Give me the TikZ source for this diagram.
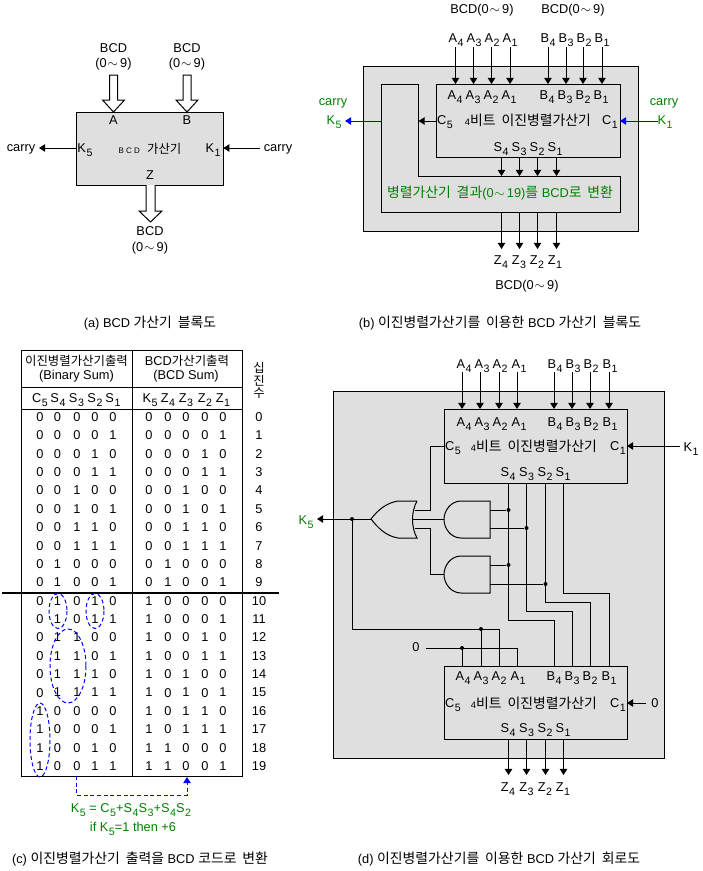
\documentclass[tikz,border=0pt]{standalone}
\usepackage{fontspec}
\setmainfont{Liberation Sans}
\newfontfamily\korfont[Scale=1.085]{Noto Sans CJK KR}
\newfontfamily\korsmall[Scale=0.97]{Noto Sans CJK KR}
\usetikzlibrary{arrows.meta}
\newcommand{\kor}[1]{{\korfont\spaceskip=0.42em\relax #1}}
\newcommand{\kors}[1]{{\korsmall\spaceskip=0.42em\relax #1}}
\newcommand{\lbl}[2]{#1\kern0.4pt\raisebox{-3pt}[0pt][0pt]{\fontsize{8}{8}\selectfont #2}}
\newcommand{\tld}{\kern0.6pt$\sim$\kern1.6pt}
\newcommand{\pxu}{0.75pt}
\definecolor{boxgray}{HTML}{DFDFDF}
\definecolor{kgreen}{HTML}{008000}
\tikzset{
  txt/.style={inner sep=0pt,text depth=0pt,font=\fontsize{9.6}{11}\selectfont},
  gtxt/.style={txt,text=kgreen},
  capt/.style={txt},
  bit/.style={txt},
  graybox/.style={draw,fill=boxgray,inner sep=0pt,outer sep=0pt},
  wire/.style={line width=\pxu},
  arr/.style={wire,-{Triangle[length=4.6pt,width=5.6pt]}},
  barr/.style={arr,blue},
  fatarr/.style={draw,fill=white,line width=\pxu,line join=miter},
  oval/.style={draw=blue,line width=\pxu,dash pattern=on 3pt off 2pt},
  dot/.style={circle,fill=black,inner sep=0pt,minimum size=3pt},
}
\begin{document}
\begin{tikzpicture}[x=\pxu,y=-\pxu]
\useasboundingbox (0,0) rectangle (703,871);
%% (a) block
\node[graybox,minimum width=146.5*\pxu,minimum height=73*\pxu] (aBox) at (150,148.5) {};
\foreach \n/\x in {A/113.5,B/187}{
  \node[txt] (aT\n) at (\x,48) {BCD};
  \node[txt] (aR\n) at (\x,63) {(0\tld9)};
  \draw[fatarr] (\x-4,75) -- (\x-4,100) -- (\x-11,100) -- (\x,112) -- (\x+11,100) -- (\x+4,100) -- (\x+4,75) -- cycle;
  \node[txt] (aP\n) at (\x,120) {\n};
}
\draw[fatarr] (146,185) -- (146,211) -- (139,211) -- (150.5,222) -- (162,211) -- (155,211) -- (155,185);
\node[txt] (aZ) at (150,175) {Z};
\node[txt] (aBt) at (150,231) {BCD};
\node[txt] (aRt) at (150,247) {(0\tld9)};
\node[txt] (aK5) at (85,148) {\lbl{K}{5}};
\node[txt] (aK1) at (213,148) {\lbl{K}{1}};
\node[txt] (aMid) at (150,148) {{\fontsize{6}{7}\selectfont B C D}\ \ \kors{가산기}};
\node[txt] (aCl) at (21,148) {carry};
\node[txt] (aCr) at (278,148) {carry};
\coordinate (aLs) at (76.5,148); \coordinate (aLe) at (39,148);
\coordinate (aRs) at (260,148);
\draw[arr] (aLs) -- (aLe);
\draw[arr] (aRs) -- (aRs -| aBox.east);
\node[capt] (aCap) at (150,322) {(a) BCD \kor{가산기 블록도}};
%% (b) block
\node[graybox,minimum width=275*\pxu,minimum height=165*\pxu] (bOut) at (500.5,148.5) {};
\node[graybox,minimum width=184*\pxu,minimum height=73*\pxu] (bAdd) at (528,120.5) {};
\draw[wire,fill=boxgray] (381,84) -- (418,84) -- (418,176) -- (620,176) -- (620,212) -- (381,212) -- cycle;
\coordinate (bConvN) at (500,176); \coordinate (bConvS) at (500,212);
\node[gtxt] (bConv) at (500,192) {\kor{병렬가산기 결과}(0\tld19)\kor{를} BCD\kor{로 변환}};
\node[txt] (bTa) at (482,9) {BCD(0\tld9)};
\node[txt] (bTb) at (573,9) {BCD(0\tld9)};
\foreach \l/\n/\x/\w in {A/4/456/455.5,A/3/474/473.5,A/2/492/491.5,A/1/510/510,B/4/548/548,B/3/566/566,B/2/584/583,B/1/602/602}{
  \node[txt] (bt\l\n) at (\x,38.5) {\lbl{\l}{\n}};
  \node[txt] (bi\l\n) at (\x-1,95) {\lbl{\l}{\n}};
  \coordinate (bw\l\n) at (\w,47);
  \draw[arr] (bw\l\n) -- (bw\l\n |- bAdd.north);
}
\foreach \n/\x/\w in {4/501/501.5,3/519/519.5,2/537/537.5,1/555/556.5}{
  \node[txt] (bS\n) at (\x,147) {\lbl{S}{\n}};
  \node[txt] (bZ\n) at (\x,260) {\lbl{Z}{\n}};
  \coordinate (bs\n) at (\w,157); \coordinate (bz\n) at (\w,249);
  \draw[arr] (bs\n) -- (bs\n |- bConvN);
  \draw[arr] (bs\n |- bConvS) -- (bz\n);
}
\node[txt] (bC5) at (445,120) {\lbl{C}{5}};
\node[txt] (bC1) at (610,120) {\lbl{C}{1}};
\node[txt] (bMid) at (528,120) {{\fontsize{7}{8}\selectfont 4}\kor{비트 이진병렬가산기}};
\coordinate (bc5) at (436,121); \coordinate (bc5e) at (418.5,121);
\coordinate (bk5s) at (381,121); \coordinate (bk5e) at (345,121);
\coordinate (bk1s) at (658,121);
\draw[arr] (bc5) -- (bc5e);
\draw[barr] (bk5s) -- (bk5e);
\draw[barr] (bk1s) -- (bk1s -| bAdd.east);
\node[gtxt] (bK5) at (334,120) {\lbl{K}{5}};
\node[gtxt] (bK1) at (665,120) {\lbl{K}{1}};
\node[gtxt] (bCl) at (333,102) {carry};
\node[gtxt] (bCr) at (664,102) {carry};
\node[txt] (bBot) at (527,285) {BCD(0\tld9)};
\node[capt] (bCap) at (500,322) {(b) \kor{이진병렬가산기를 이용한} BCD \kor{가산기 블록도}};
%% (c) table
\node[draw,line width=\pxu,inner sep=0pt,outer sep=0pt,minimum width=221*\pxu,minimum height=426*\pxu] (cTab) at (132,563) {};
\coordinate (cmT) at (132.5,350); \coordinate (cmB) at (132.5,776);
\coordinate (chA) at (21.5,387); \coordinate (chB) at (21.5,409);
\coordinate (cbL) at (2,592.7); \coordinate (cbR) at (279,592.7);
\draw[wire] (cmT) -- (cmB);
\draw[wire] (chA) -- (chA -| cTab.east);
\draw[wire] (chB) -- (chB -| cTab.east);
\draw[line width=1.5pt] (cbL) -- (cbR);
\node[txt] (cHa) at (76.5,360) {\kors{이진병렬가산기출력}};
\node[txt] (cHb) at (76.5,375) {(Binary Sum)};
\node[txt] (cHc) at (187,360) {BCD\kors{가산기출력}};
\node[txt] (cHd) at (186,375) {(BCD Sum)};
\node[txt] (cDa) at (259,367) {\kors{십}};
\node[txt] (cDb) at (259,380) {\kors{진}};
\node[txt] (cDc) at (259,393) {\kors{수}};
\foreach \l/\n/\x in {C/5/40,S/4/58,S/3/76.5,S/2/95,S/1/113,K/5/150,Z/4/168,Z/3/186,Z/2/205,Z/1/223}{
  \node[txt] (ch\l\n) at (\x,398) {\lbl{\l}{\n}};
}
\foreach \r/\a/\b/\c/\d/\e/\f/\g/\h/\i/\j in {0/0/0/0/0/0/0/0/0/0/0,1/0/0/0/0/1/0/0/0/0/1,2/0/0/0/1/0/0/0/0/1/0,3/0/0/0/1/1/0/0/0/1/1,4/0/0/1/0/0/0/0/1/0/0,5/0/0/1/0/1/0/0/1/0/1,6/0/0/1/1/0/0/0/1/1/0,7/0/0/1/1/1/0/0/1/1/1,8/0/1/0/0/0/0/1/0/0/0,9/0/1/0/0/1/0/1/0/0/1,10/0/1/0/1/0/1/0/0/0/0,11/0/1/0/1/1/1/0/0/0/1,12/0/1/1/0/0/1/0/0/1/0,13/0/1/1/0/1/1/0/0/1/1,14/0/1/1/1/0/1/0/1/0/0,15/0/1/1/1/1/1/0/1/0/1,16/1/0/0/0/0/1/0/1/1/0,17/1/0/0/0/1/1/0/1/1/1,18/1/0/0/1/0/1/1/0/0/0,19/1/0/0/1/1/1/1/0/0/1}{
  \pgfmathsetmacro{\yy}{417+18.37*\r}
  \node[bit] (c\r a) at (40,\yy) {\a}; \node[bit] (c\r b) at (57.5,\yy) {\b};
  \node[bit] (c\r c) at (77,\yy) {\c}; \node[bit] (c\r d) at (95,\yy) {\d};
  \node[bit] (c\r e) at (113,\yy) {\e}; \node[bit] (c\r f) at (149,\yy) {\f};
  \node[bit] (c\r g) at (168,\yy) {\g}; \node[bit] (c\r h) at (186,\yy) {\h};
  \node[bit] (c\r i) at (205,\yy) {\i}; \node[bit] (c\r j) at (223,\yy) {\j};
  \node[bit] (c\r n) at (259,\yy) {\r};
}
\draw[oval] (58,611) ellipse (9 and 17.5);
\draw[oval] (95,611) ellipse (9 and 17.5);
\draw[oval] (68,666) ellipse (18 and 37);
\draw[oval] (40,740) ellipse (10 and 37);
\coordinate (cdS) at (76,776); \coordinate (cdM) at (76,795); \coordinate (cdE) at (187,777);
\draw[barr,dash pattern=on 3pt off 2pt] (cdS) -- (cdM) -| (cdE);
\node[gtxt] (cFa) at (131,808) {\lbl{K}{5} = \lbl{C}{5}+\lbl{S}{4}\lbl{S}{3}+\lbl{S}{4}\lbl{S}{2}};
\node[gtxt] (cFb) at (133,827) {if \lbl{K}{5}=1 then +6};
\node[capt] (cCap) at (140,858) {(c) \kor{이진병렬가산기 출력을} BCD \kor{코드로 변환}};
%% (d) circuit
\node[graybox,minimum width=331*\pxu,minimum height=367*\pxu] (dOut) at (498.5,574.5) {};
\node[graybox,minimum width=183*\pxu,minimum height=74*\pxu] (dAddT) at (535.5,446) {};
\node[graybox,minimum width=183*\pxu,minimum height=73*\pxu] (dAddB) at (535.5,702.5) {};
\foreach \l/\n/\x/\w in {A/4/464/462,A/3/482/480,A/2/500/499,A/1/519/517,B/4/555/554,B/3/573/572,B/2/591/590,B/1/610/609}{
  \node[txt] (dt\l\n) at (\x,364) {\lbl{\l}{\n}};
  \node[txt] (di\l\n) at (\x,422) {\lbl{\l}{\n}};
  \node[txt] (dj\l\n) at (\x-1,676) {\lbl{\l}{\n}};
  \coordinate (dw\l\n) at (\w,372);
  \draw[arr] (dw\l\n) -- (dw\l\n |- dAddT.north);
}
\foreach \n/\x/\w in {4/508/508.5,3/526.5/526.5,2/545/545.5,1/563/563.5}{
  \node[txt] (dS\n) at (\x,472) {\lbl{S}{\n}};
  \node[txt] (dR\n) at (\x,728) {\lbl{S}{\n}};
  \node[txt] (dZ\n) at (\x,787) {\lbl{Z}{\n}};
  \coordinate (dq\n) at (\w,483); \coordinate (dz\n) at (\w,775);
  \draw[arr] (dz\n |- dAddB.south) -- (dz\n);
}
\node[txt] (dCa) at (453,446) {\lbl{C}{5}};
\node[txt] (dCb) at (618,446) {\lbl{C}{1}};
\node[txt] (dMa) at (534,446) {{\fontsize{7}{8}\selectfont 4}\kor{비트 이진병렬가산기}};
\node[txt] (dCc) at (453,703) {\lbl{C}{5}};
\node[txt] (dCd) at (618,703) {\lbl{C}{1}};
\node[txt] (dMb) at (534,703) {{\fontsize{7}{8}\selectfont 4}\kor{비트 이진병렬가산기}};
\node[txt] (dK1) at (691,447) {\lbl{K}{1}};
\coordinate (dk1) at (680,446);
\draw[arr] (dk1) -- (dk1 -| dAddT.east);
\node[txt] (dZa) at (655,703) {0};
\coordinate (dc1) at (646,703);
\draw[arr] (dc1) -- (dc1 -| dAddB.east);
 %% gates
\draw[wire] (417,501) -- (398,501) .. controls (386,503) and (378,510) .. (371,519) .. controls (378,528) and (386,536) .. (398,538) -- (417,538) .. controls (411,527) and (411,512) .. (417,501);
\foreach \g/\y in {1/519.5,2/574.5}{
  \draw[wire] (490,\y-18.5) -- (461,\y-18.5) .. controls (451,\y-18.5) and (444,\y-9) .. (444,\y) .. controls (444,\y+9) and (451,\y+18.5) .. (461,\y+18.5) -- (490,\y+18.5) -- cycle;
}
\coordinate (orOut) at (371,519); \coordinate (orA) at (414.5,510); \coordinate (orB) at (412.5,519); \coordinate (orC) at (414.5,528);
\coordinate (gbIn) at (444,519); \coordinate (gcIn) at (444,574.5); \coordinate (dC5) at (444,446);
\coordinate (gbA) at (490,510); \coordinate (gbB) at (490,528); \coordinate (gcA) at (490,565); \coordinate (gcB) at (490,584);
\node[dot] (jA) at (508.5,510) {}; \node[dot] (jB) at (526.5,528) {};
\node[dot] (jC) at (508.5,565) {}; \node[dot] (jD) at (545.5,584) {};
\node[dot] (jK) at (352,519) {}; \node[dot] (jL) at (481,629) {}; \node[dot] (jM) at (462,648) {};
\draw[wire] (orA) -- (430,510) |- (dC5);
\draw[wire] (orB) -- (gbIn);
\draw[wire] (orC) -- (430,528) |- (gcIn);
\draw[wire] (gbA) -- (jA); \draw[wire] (gbB) -- (jB);
\draw[wire] (gcA) -- (jC); \draw[wire] (gcB) -- (jD);
\coordinate (dK5e) at (317,519);
\draw[arr] (orOut) -- (dK5e);
\node[gtxt] (dK5) at (306,520) {\lbl{K}{5}};
 %% sum to second adder
\foreach \n/\xb/\yb in {4/554/620.5,3/572/611,2/590/602,1/609/593}{
  \coordinate (dp\n) at (\xb,666);
  \draw[wire] (dq\n) |- (\xb,\yb) -- (dp\n);
}
\coordinate (dA2) at (499,666); \coordinate (dA3) at (481,666); \coordinate (dA4) at (462,666); \coordinate (dA1) at (517,666);
\draw[wire] (jK) |- (499,629) -- (dA2);
\draw[wire] (jL) -- (dA3);
\node[txt] (dZb) at (416,647) {0};
\coordinate (dzr) at (426,648);
\draw[wire] (dzr) -- (517,648) -- (dA1);
\draw[wire] (jM) -- (dA4);
\node[capt] (dCap) at (499,858) {(d) \kor{이진병렬가산기를 이용한} BCD \kor{가산기 회로도}};
\end{tikzpicture}
\end{document}
